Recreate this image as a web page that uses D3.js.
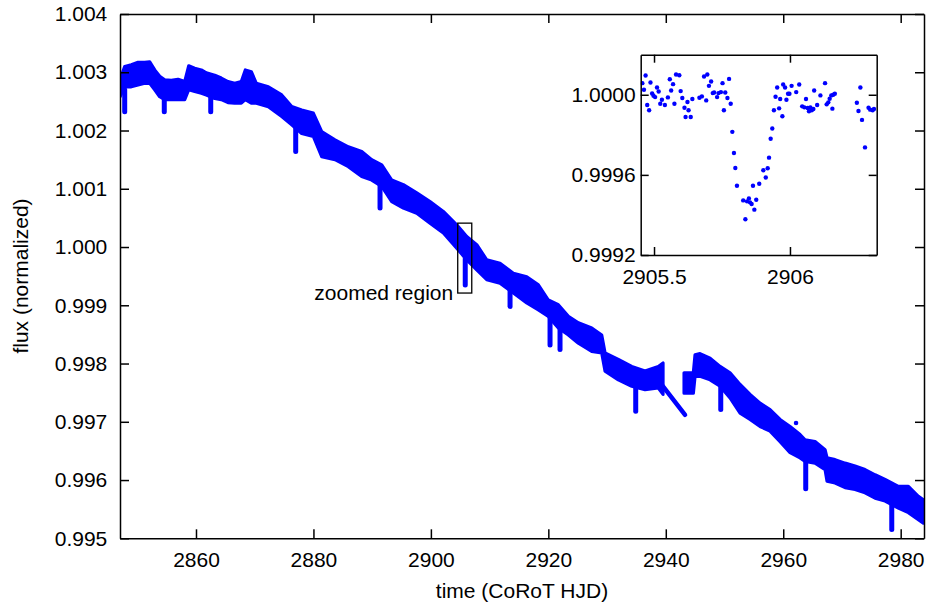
<!DOCTYPE html>
<html>
<head>
<meta charset="utf-8">
<script src="https://cdn.jsdelivr.net/npm/d3@7"></script>
<style>
  body { margin: 0; background: #fff; }
  svg { display: block; font-family: "Liberation Sans", Arial, Helvetica, sans-serif; }
</style>
</head>
<body>
<svg id="chart" width="931" height="610"></svg>
<script>
// light curve: upper / lower edge of the scatter band (null = data gap)
const bandTime = [2847.06, 2847.86, 2848.98, 2850.13, 2851.27, 2852.12, 2852.97, 2853.82, 2854.67, 2855.80,
  2856.94, 2858.08, 2858.76, 2859.78, 2860.91, 2861.76, 2863.19, 2864.31, 2865.45, 2866.59,
  2867.72, 2868.40, 2869.42, 2870.27, 2872.32, 2874.60, 2876.30, 2878.00, 2879.98, 2881.41,
  2883.67, 2885.94, 2888.22, 2889.92, 2891.63, 2893.33, 2895.31, 2897.59, 2899.85, 2902.12,
  2904.40, 2906.10, 2907.81, 2909.51, 2911.77, 2914.04, 2916.32, 2918.30, 2920.00, 2921.70,
  2923.41, 2925.11, 2927.39, 2929.09, 2929.66, 2931.92, 2934.20, 2936.47, 2938.73, 2939.53,
  null,
  2943.11, 2944.69, 2944.98, 2945.83, 2947.54, 2949.24, 2950.94, 2952.65, 2954.35, 2956.05,
  2957.75, 2959.46, 2961.16, 2962.86, 2963.72, 2965.42, 2967.12, 2967.46, 2968.83, 2970.53,
  2972.23, 2973.93, 2975.64, 2977.34, 2979.60, 2981.31, 2983.01, 2983.86];
const bandHigh = [1.00287, 1.00310, 1.00313, 1.00317, 1.00317, 1.00318, 1.00304, 1.00293, 1.00287, 1.00286,
  1.00288, 1.00284, 1.00311, 1.00307, 1.00304, 1.00299, 1.00295, 1.00290, 1.00284, 1.00281,
  1.00284, 1.00304, 1.00301, 1.00281, 1.00275, 1.00261, 1.00241, 1.00235, 1.00230, 1.00198,
  1.00184, 1.00172, 1.00164, 1.00150, 1.00141, 1.00115, 1.00107, 1.00093, 1.00078, 1.00061,
  1.00038, 1.00018, 1.00004, 0.99978, 0.99972, 0.99955, 0.99949, 0.99935, 0.99909, 0.99901,
  0.99881, 0.99870, 0.99861, 0.99849, 0.99818, 0.99807, 0.99795, 0.99787, 0.99795, 0.99801,
  null,
  0.99784, 0.99784, 0.99815, 0.99817, 0.99809, 0.99795, 0.99784, 0.99764, 0.99747, 0.99732,
  0.99721, 0.99704, 0.99692, 0.99678, 0.99669, 0.99666, 0.99652, 0.99638, 0.99635, 0.99629,
  0.99624, 0.99618, 0.99609, 0.99601, 0.99589, 0.99589, 0.99572, 0.99566];
const bandLow = [1.00258, 1.00275, 1.00275, 1.00278, 1.00281, 1.00281, 1.00270, 1.00258, 1.00253, 1.00253,
  1.00253, 1.00253, 1.00270, 1.00267, 1.00264, 1.00261, 1.00255, 1.00253, 1.00248, 1.00247,
  1.00247, 1.00253, 1.00247, 1.00247, 1.00241, 1.00224, 1.00210, 1.00195, 1.00190, 1.00155,
  1.00150, 1.00138, 1.00121, 1.00115, 1.00104, 1.00078, 1.00067, 1.00058, 1.00041, 1.00024,
  0.99998, 0.99978, 0.99961, 0.99944, 0.99938, 0.99921, 0.99904, 0.99892, 0.99881, 0.99861,
  0.99849, 0.99835, 0.99821, 0.99818, 0.99787, 0.99772, 0.99761, 0.99755, 0.99758, 0.99747,
  null,
  0.99749, 0.99749, 0.99778, 0.99778, 0.99772, 0.99761, 0.99741, 0.99715, 0.99704, 0.99692,
  0.99684, 0.99666, 0.99647, 0.99638, 0.99632, 0.99629, 0.99618, 0.99598, 0.99595, 0.99587,
  0.99584, 0.99578, 0.99569, 0.99564, 0.99552, 0.99544, 0.99532, 0.99526];

// straight run of points across the gap near 2941
const rampTime = [2939.53, 2943.28];
const rampFlux = [0.99761, 0.99712];

// transit-like dips: time, flux where the dip leaves the band, deepest flux
const dipTime = [2847.86, 2854.60, 2862.51, 2876.98, 2891.34, 2905.85, 2913.48, 2920.29, 2921.99, 2934.88, 2949.36, 2963.83, 2978.48];
const dipTop = [1.0027, 1.0026, 1.0026, 1.0021, 1.0011, 0.9998, 0.9993, 0.9988, 0.9986, 0.9976, 0.9976, 0.9964, 0.9956];
const dipBottom = [1.00232, 1.00232, 1.00232, 1.00164, 1.00067, 0.99935, 0.99898, 0.99832, 0.99824, 0.99718, 0.99721, 0.99585, 0.99515];

// lone outlier
const outlierTime = [2962.18];
const outlierFlux = [0.99698];

// zoomed region box
const boxTime = [2904.57, 2906.96];
const boxFlux = [0.99921, 1.00041];

// inset points
const insetTime = [2905.457, 2905.469, 2905.463, 2905.475, 2905.482, 2905.487, 2905.493, 2905.498, 2905.504, 2905.511,
  2905.517, 2905.523, 2905.529, 2905.540, 2905.551, 2905.558, 2905.563, 2905.570, 2905.575, 2905.581,
  2905.593, 2905.598, 2905.604, 2905.612, 2905.616, 2905.623, 2905.627, 2905.635, 2905.641, 2905.667,
  2905.676, 2905.684, 2905.692, 2905.696, 2905.702, 2905.710, 2905.716, 2905.721, 2905.732, 2905.737,
  2905.746, 2905.752, 2905.757, 2905.762, 2905.770, 2905.776, 2905.782, 2905.788, 2905.794, 2905.799,
  2905.805, 2905.828, 2905.836, 2905.842, 2905.849, 2905.853, 2905.859, 2905.864, 2905.869, 2905.876,
  2905.887, 2905.902, 2905.911, 2905.918, 2905.923, 2905.929, 2905.935, 2905.941, 2905.947, 2905.953,
  2905.960, 2905.964, 2905.972, 2905.975, 2905.982, 2905.987, 2905.993, 2905.998, 2906.006, 2906.023,
  2906.034, 2906.045, 2906.053, 2906.059, 2906.065, 2906.070, 2906.075, 2906.080, 2906.086, 2906.089,
  2906.100, 2906.112, 2906.129, 2906.135, 2906.141, 2906.146, 2906.152, 2906.156, 2906.159, 2906.165,
  2906.246, 2906.252, 2906.259, 2906.265, 2906.276, 2906.289, 2906.295, 2906.304, 2906.309];
const insetFlux = [1.0000579, 1.0000959, 1.0000248, 0.9999488, 0.9999223, 1.0000612, 1.0000066, 0.9999950, 0.9999884, 1.0000364,
  1.0000165, 0.9999554, 0.9999752, 0.9999488, 0.9999868, 1.0000777, 1.0000215, 1.0000529, 0.9999554, 1.0001008,
  1.0000975, 1.0000182, 0.9999835, 0.9999355, 0.9998893, 0.9999636, 0.9999223, 0.9998893, 0.9999785, 0.9999851,
  0.9999917, 1.0000909, 0.9999719, 1.0001008, 1.0000446, 1.0000661, 1.0000083, 1.0000116, 0.9999884, 1.0000083,
  1.0000132, 1.0000579, 0.9999223, 1.0000116, 0.9999835, 1.0000793, 0.9999554, 0.9998149, 0.9997091, 0.9996347,
  0.9995455, 0.9994727, 0.9993785, 0.9994678, 0.9994826, 0.9994628, 0.9994545, 0.9995455, 0.9994264, 0.9994760,
  0.9995554, 0.9996231, 0.9995868, 0.9996331, 0.9996860, 0.9997802, 0.9998314, 0.9999223, 0.9999901, 1.0000364,
  0.9999322, 0.9999785, 0.9998926, 1.0000512, 1.0000364, 0.9999752, 1.0000050, 1.0000050, 1.0000446, 1.0000132,
  1.0000512, 0.9999421, 0.9999372, 0.9999785, 0.9999339, 0.9999174, 0.9999372, 0.9999223, 0.9999289, 1.0000215,
  0.9999488, 0.9999967, 1.0000579, 0.9999521, 0.9999620, 0.9999802, 0.9999967, 0.9999306, 1.0000000, 1.0000050,
  0.9999603, 0.9999190, 1.0000364, 0.9998744, 0.9997372, 0.9999355, 0.9999256, 0.9999223, 0.9999289];

// ticks
const xTicks = [2860, 2880, 2900, 2920, 2940, 2960, 2980];
const yTicks = [0.995, 0.996, 0.997, 0.998, 0.999, 1.000, 1.001, 1.002, 1.003, 1.004];
const insetXTicks = [2905.5, 2906];
const insetYTicks = [0.9992, 0.9996, 1.0000];

const blue = "#0000ff";
const fontSize = 21;
const svg = d3.select("#chart");

// main scales
const x = d3.scaleLinear().domain([2847.06, 2983.97]).range([120, 924]);
const y = d3.scaleLinear().domain([0.995, 1.004]).range([538.3, 14]);

svg.append("clipPath").attr("id", "mainclip")
  .append("rect").attr("x", 120).attr("y", 14).attr("width", 804).attr("height", 524.3);

const plot = svg.append("g").attr("clip-path", "url(#mainclip)");

// scatter band as an area
const band = bandTime.map((t, i) => ({t: t, hi: bandHigh[i], lo: bandLow[i]}));
const area = d3.area()
  .defined(d => d.t !== null)
  .x(d => x(d.t))
  .y0(d => y(d.lo))
  .y1(d => y(d.hi));
plot.append("path")
  .datum(band)
  .attr("d", area)
  .attr("fill", blue)
  .attr("stroke", blue)
  .attr("stroke-width", 3.2)
  .attr("stroke-linejoin", "round");

// ramp across the gap
plot.append("path")
  .datum(rampTime.map((t, i) => [t, rampFlux[i]]))
  .attr("d", d3.line().x(d => x(d[0])).y(d => y(d[1])))
  .attr("fill", "none")
  .attr("stroke", blue)
  .attr("stroke-width", 4.5)
  .attr("stroke-linecap", "round");

// dips
plot.selectAll("line.dip")
  .data(dipTime.map((t, i) => ({t: t, top: dipTop[i], bottom: dipBottom[i]})))
  .join("line")
    .attr("class", "dip")
    .attr("x1", d => x(d.t)).attr("x2", d => x(d.t))
    .attr("y1", d => y(d.top)).attr("y2", d => y(d.bottom))
    .attr("stroke", blue)
    .attr("stroke-width", 5)
    .attr("stroke-linecap", "round");

// outlier
plot.selectAll("circle.outlier")
  .data(outlierTime.map((t, i) => [t, outlierFlux[i]]))
  .join("circle")
    .attr("class", "outlier")
    .attr("cx", d => x(d[0]))
    .attr("cy", d => y(d[1]))
    .attr("r", 2.3)
    .attr("fill", blue);

// axes on all four sides, ticks pointing inwards
function styleAxis(g) {
  g.selectAll("path, line").attr("stroke", "#000").attr("stroke-width", 1.5);
  g.selectAll("text").attr("font-size", fontSize).attr("fill", "#000")
    .attr("font-family", "'Liberation Sans', Arial, Helvetica, sans-serif");
}

svg.append("g")
  .attr("transform", "translate(0,538.3)")
  .call(d3.axisBottom(x).tickValues(xTicks).tickSize(-9).tickSizeOuter(0).tickPadding(13.5).tickFormat(d3.format("d")))
  .call(styleAxis);
svg.append("g")
  .attr("transform", "translate(0,14)")
  .call(d3.axisTop(x).tickValues(xTicks).tickSize(-9).tickSizeOuter(0).tickFormat(""))
  .call(styleAxis);
svg.append("g")
  .attr("transform", "translate(120,0)")
  .call(d3.axisLeft(y).tickValues(yTicks).tickSize(-9).tickSizeOuter(0).tickPadding(12.7).tickFormat(d3.format(".3f")))
  .call(styleAxis);
svg.append("g")
  .attr("transform", "translate(924,0)")
  .call(d3.axisRight(y).tickValues(yTicks).tickSize(-9).tickSizeOuter(0).tickFormat(""))
  .call(styleAxis);

// axis titles
svg.append("text")
  .attr("x", 522).attr("y", 597.5)
  .attr("text-anchor", "middle")
  .attr("font-size", fontSize)
  .text("time (CoRoT HJD)");
svg.append("text")
  .attr("transform", "translate(28.3,276) rotate(-90)")
  .attr("text-anchor", "middle")
  .attr("font-size", fontSize)
  .text("flux (normalized)");

// zoomed region box and label
svg.append("rect")
  .attr("x", x(boxTime[0]))
  .attr("y", y(boxFlux[1]))
  .attr("width", x(boxTime[1]) - x(boxTime[0]))
  .attr("height", y(boxFlux[0]) - y(boxFlux[1]))
  .attr("fill", "none")
  .attr("stroke", "#000")
  .attr("stroke-width", 1.3);
svg.append("text")
  .attr("x", x(boxTime[0]) - 4.5)
  .attr("y", y(boxFlux[0]) + 6.5)
  .attr("text-anchor", "end")
  .attr("font-size", fontSize)
  .text("zoomed region");

// inset
const xi = d3.scaleLinear().domain([2905.451, 2906.319]).range([640.7, 876.7]);
const yi = d3.scaleLinear().domain([0.9992, 1.0002]).range([255, 54.7]);

svg.append("rect")
  .attr("x", 640.7).attr("y", 54.7)
  .attr("width", 236).attr("height", 200.3)
  .attr("fill", "#fff");

svg.append("clipPath").attr("id", "insetclip")
  .append("rect").attr("x", 640.7).attr("y", 54.7).attr("width", 236).attr("height", 200.3);

svg.append("g").attr("clip-path", "url(#insetclip)")
  .selectAll("circle")
  .data(insetTime.map((t, i) => [t, insetFlux[i]]))
  .join("circle")
    .attr("cx", d => xi(d[0]))
    .attr("cy", d => yi(d[1]))
    .attr("r", 2.2)
    .attr("fill", blue);

svg.append("g")
  .attr("transform", "translate(0,255)")
  .call(d3.axisBottom(xi).tickValues(insetXTicks).tickSize(-8).tickSizeOuter(0).tickPadding(14).tickFormat(d => String(d)))
  .call(styleAxis);
svg.append("g")
  .attr("transform", "translate(0,54.7)")
  .call(d3.axisTop(xi).tickValues(insetXTicks).tickSize(-8).tickSizeOuter(0).tickFormat(""))
  .call(styleAxis);
svg.append("g")
  .attr("transform", "translate(640.7,0)")
  .call(d3.axisLeft(yi).tickValues(insetYTicks).tickSize(-8).tickSizeOuter(0).tickPadding(5).tickFormat(d3.format(".4f")))
  .call(styleAxis);
svg.append("g")
  .attr("transform", "translate(876.7,0)")
  .call(d3.axisRight(yi).tickValues(insetYTicks).tickSize(-8).tickSizeOuter(0).tickFormat(""))
  .call(styleAxis);
</script>
</body>
</html>
